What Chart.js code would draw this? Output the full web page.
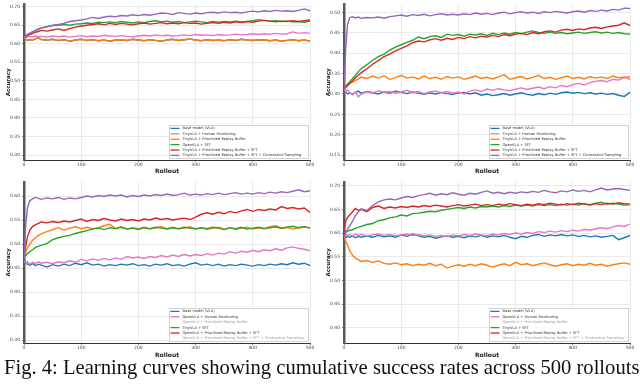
<!DOCTYPE html>
<html><head><meta charset="utf-8">
<script src="https://cdn.jsdelivr.net/npm/chart.js@4.4.0/dist/chart.umd.min.js"></script>
<style>
html,body{margin:0;padding:0;background:#fff;width:640px;height:386px;overflow:hidden;}
canvas{position:absolute;}
#cap{position:absolute;left:4px;top:356px;font-family:"Liberation Serif","Times New Roman",serif;font-size:20.6px;white-space:nowrap;color:#111;}
</style></head><body>
<canvas id="tl" width="320" height="177" style="left:0;top:0"></canvas>
<canvas id="tr" width="320" height="177" style="left:320px;top:0"></canvas>
<canvas id="bl" width="320" height="186" style="left:0;top:175px"></canvas>
<canvas id="br" width="320" height="186" style="left:320px;top:175px"></canvas>
<div id="cap">Fig. 4: Learning curves showing cumulative success rates across 500 rollouts</div>
<script>
// ---------- shared ----------
const rollouts = [0,3,6,10,15,20,25,30,40,50,60,70,80,90,100,110,120,130,140,150,160,170,180,190,200,210,220,230,240,250,260,270,280,290,300,310,320,330,340,350,360,370,380,390,400,410,420,430,440,450,460,470,480,490,500];
const xTicks = [0,100,200,300,400,500];
const topLabels = ["Base model (VLA)","TinyVLA + Human Monitoring","TinyVLA + Prioritized Replay Buffer","OpenVLA + SFT","TinyVLA + Prioritized Replay Buffer + SFT","TinyVLA + Prioritized Replay Buffer + SFT + Contrastive Sampling"];
const bottomLabels = ["Base model (VLA)","OpenVLA + Human Monitoring","OpenVLA + Prioritized Replay Buffer","TinyVLA + SFT","OpenVLA + Prioritized Replay Buffer + SFT","OpenVLA + Prioritized Replay Buffer + SFT + Contrastive Sampling"];
const caption = "Fig. 4: Learning curves showing cumulative success rates across 500 rollouts";

// ---------- top-left ----------
const tlTicks = [0.30,0.35,0.40,0.45,0.50,0.55,0.60,0.65,0.70];
const tlBlue   = [0.617,0.612,0.609,0.611,0.610,0.613,0.616,0.611,0.610,0.612,0.609,0.611,0.607,0.610,0.612,0.609,0.611,0.608,0.610,0.607,0.610,0.611,0.609,0.612,0.610,0.608,0.611,0.609,0.607,0.610,0.612,0.609,0.611,0.613,0.610,0.608,0.611,0.609,0.610,0.608,0.611,0.609,0.612,0.610,0.609,0.611,0.610,0.608,0.610,0.607,0.609,0.611,0.608,0.610,0.607];
const tlPink   = [0.617,0.616,0.619,0.620,0.618,0.621,0.619,0.620,0.618,0.621,0.619,0.621,0.618,0.620,0.622,0.619,0.621,0.620,0.623,0.621,0.620,0.622,0.620,0.619,0.621,0.623,0.621,0.624,0.622,0.623,0.621,0.622,0.624,0.622,0.625,0.623,0.624,0.622,0.625,0.623,0.624,0.626,0.624,0.625,0.627,0.625,0.627,0.626,0.628,0.626,0.627,0.632,0.628,0.630,0.628];
const tlOrange = [0.617,0.612,0.609,0.611,0.610,0.613,0.616,0.611,0.610,0.612,0.609,0.611,0.607,0.610,0.612,0.609,0.611,0.608,0.610,0.607,0.610,0.611,0.609,0.612,0.610,0.608,0.611,0.609,0.607,0.610,0.612,0.609,0.611,0.613,0.610,0.608,0.611,0.609,0.610,0.608,0.611,0.609,0.612,0.610,0.609,0.611,0.610,0.608,0.610,0.607,0.609,0.611,0.608,0.610,0.607];
const tlGreen  = [0.617,0.621,0.625,0.628,0.632,0.636,0.639,0.642,0.646,0.649,0.650,0.652,0.650,0.653,0.654,0.656,0.655,0.658,0.657,0.659,0.657,0.660,0.658,0.656,0.659,0.657,0.660,0.662,0.659,0.661,0.658,0.660,0.657,0.659,0.661,0.659,0.657,0.660,0.658,0.660,0.659,0.661,0.659,0.660,0.662,0.665,0.663,0.661,0.662,0.660,0.661,0.659,0.660,0.658,0.661];
const tlRed    = [0.617,0.619,0.622,0.625,0.628,0.631,0.633,0.636,0.634,0.637,0.640,0.636,0.641,0.645,0.648,0.650,0.652,0.654,0.651,0.655,0.652,0.655,0.653,0.651,0.654,0.656,0.653,0.655,0.657,0.654,0.656,0.654,0.657,0.655,0.656,0.653,0.655,0.657,0.655,0.658,0.656,0.659,0.657,0.660,0.658,0.661,0.663,0.661,0.659,0.661,0.660,0.662,0.660,0.662,0.664];
const tlPurple = [0.617,0.620,0.625,0.628,0.632,0.636,0.640,0.643,0.646,0.650,0.652,0.655,0.660,0.662,0.664,0.667,0.671,0.668,0.672,0.674,0.673,0.676,0.675,0.678,0.676,0.679,0.677,0.680,0.683,0.682,0.679,0.684,0.682,0.680,0.683,0.681,0.684,0.685,0.683,0.686,0.684,0.685,0.683,0.686,0.688,0.686,0.689,0.687,0.690,0.688,0.689,0.687,0.690,0.694,0.689];

// ---------- top-right ----------
const trTicks = [0.15,0.20,0.25,0.30,0.35,0.40,0.45,0.50];
const trBlue   = [0.313,0.305,0.300,0.303,0.299,0.304,0.307,0.302,0.306,0.303,0.300,0.305,0.302,0.307,0.304,0.301,0.305,0.302,0.299,0.303,0.300,0.304,0.301,0.299,0.302,0.304,0.300,0.303,0.297,0.300,0.296,0.298,0.301,0.297,0.300,0.303,0.299,0.297,0.301,0.298,0.302,0.299,0.303,0.305,0.302,0.304,0.301,0.303,0.300,0.302,0.299,0.301,0.297,0.294,0.304];
const trPink   = [0.313,0.305,0.310,0.303,0.298,0.305,0.293,0.300,0.306,0.302,0.308,0.304,0.306,0.302,0.305,0.309,0.303,0.306,0.301,0.305,0.307,0.303,0.306,0.302,0.305,0.300,0.307,0.310,0.306,0.312,0.309,0.313,0.310,0.308,0.312,0.315,0.311,0.314,0.317,0.313,0.318,0.315,0.321,0.318,0.323,0.326,0.322,0.328,0.331,0.333,0.330,0.336,0.334,0.340,0.343];
const trOrange = [0.313,0.318,0.322,0.326,0.330,0.333,0.337,0.341,0.338,0.344,0.339,0.345,0.336,0.340,0.346,0.339,0.342,0.337,0.344,0.338,0.341,0.336,0.343,0.339,0.342,0.336,0.340,0.344,0.338,0.341,0.337,0.342,0.347,0.336,0.340,0.343,0.337,0.341,0.346,0.338,0.341,0.336,0.340,0.344,0.338,0.341,0.337,0.343,0.339,0.342,0.338,0.344,0.340,0.342,0.336];
const trGreen  = [0.313,0.318,0.324,0.330,0.338,0.346,0.355,0.362,0.372,0.383,0.392,0.398,0.408,0.415,0.421,0.427,0.432,0.440,0.436,0.441,0.443,0.439,0.447,0.444,0.446,0.442,0.447,0.445,0.448,0.444,0.449,0.446,0.450,0.447,0.451,0.448,0.452,0.455,0.451,0.449,0.452,0.449,0.451,0.448,0.450,0.452,0.449,0.451,0.453,0.450,0.452,0.449,0.451,0.448,0.447];
const trRed    = [0.313,0.316,0.320,0.326,0.332,0.340,0.346,0.352,0.362,0.373,0.382,0.392,0.398,0.406,0.412,0.418,0.426,0.430,0.428,0.433,0.436,0.432,0.437,0.434,0.439,0.436,0.441,0.438,0.442,0.440,0.444,0.441,0.446,0.443,0.447,0.449,0.446,0.451,0.448,0.453,0.455,0.452,0.457,0.459,0.456,0.460,0.458,0.462,0.464,0.461,0.465,0.467,0.469,0.475,0.468];
const trPurple = [0.313,0.410,0.470,0.488,0.490,0.487,0.489,0.486,0.488,0.487,0.489,0.486,0.490,0.492,0.494,0.491,0.495,0.493,0.496,0.492,0.495,0.497,0.494,0.496,0.494,0.497,0.495,0.499,0.496,0.498,0.495,0.499,0.501,0.497,0.500,0.502,0.499,0.501,0.498,0.502,0.500,0.503,0.501,0.499,0.502,0.504,0.501,0.505,0.503,0.506,0.504,0.508,0.506,0.511,0.510];

// ---------- bottom-left ----------
const blTicks = [0.30,0.35,0.40,0.45,0.50,0.55,0.60];
const blBlue   = [0.470,0.461,0.458,0.456,0.459,0.455,0.458,0.456,0.452,0.457,0.454,0.458,0.455,0.460,0.457,0.461,0.456,0.458,0.454,0.457,0.455,0.458,0.456,0.459,0.455,0.457,0.454,0.458,0.456,0.459,0.455,0.457,0.454,0.458,0.461,0.456,0.458,0.455,0.458,0.454,0.457,0.455,0.458,0.456,0.454,0.457,0.455,0.458,0.456,0.459,0.457,0.461,0.458,0.460,0.455];
const blPink   = [0.465,0.460,0.463,0.458,0.462,0.459,0.463,0.460,0.462,0.459,0.463,0.461,0.465,0.462,0.468,0.465,0.469,0.466,0.470,0.467,0.471,0.468,0.474,0.471,0.473,0.470,0.474,0.472,0.476,0.473,0.477,0.474,0.478,0.475,0.478,0.476,0.480,0.477,0.481,0.479,0.484,0.481,0.485,0.483,0.487,0.484,0.488,0.486,0.490,0.487,0.492,0.494,0.491,0.489,0.486];
const blOrange = [0.472,0.483,0.492,0.499,0.508,0.513,0.518,0.521,0.526,0.530,0.534,0.529,0.533,0.536,0.532,0.535,0.532,0.534,0.538,0.541,0.532,0.536,0.531,0.534,0.532,0.535,0.531,0.534,0.536,0.532,0.535,0.531,0.533,0.536,0.532,0.534,0.530,0.533,0.535,0.531,0.534,0.530,0.533,0.535,0.531,0.534,0.532,0.536,0.538,0.533,0.535,0.531,0.534,0.536,0.533];
const blGreen  = [0.472,0.476,0.480,0.484,0.488,0.493,0.495,0.497,0.501,0.509,0.513,0.516,0.518,0.522,0.525,0.528,0.531,0.533,0.530,0.534,0.532,0.535,0.531,0.533,0.530,0.534,0.532,0.535,0.533,0.531,0.534,0.532,0.535,0.533,0.531,0.534,0.532,0.535,0.533,0.530,0.534,0.532,0.535,0.531,0.533,0.535,0.532,0.534,0.536,0.533,0.535,0.537,0.534,0.536,0.533];
const blRed    = [0.476,0.495,0.515,0.528,0.537,0.540,0.543,0.546,0.544,0.547,0.545,0.548,0.546,0.549,0.552,0.547,0.551,0.549,0.553,0.550,0.548,0.552,0.549,0.551,0.548,0.552,0.550,0.554,0.551,0.553,0.550,0.552,0.554,0.551,0.556,0.562,0.565,0.562,0.566,0.563,0.568,0.565,0.569,0.572,0.568,0.572,0.570,0.573,0.571,0.578,0.574,0.576,0.573,0.575,0.566];
const blPurple = [0.469,0.540,0.575,0.590,0.594,0.597,0.595,0.593,0.596,0.594,0.597,0.593,0.596,0.594,0.597,0.600,0.598,0.601,0.599,0.602,0.600,0.602,0.598,0.601,0.599,0.602,0.600,0.603,0.601,0.604,0.601,0.603,0.606,0.602,0.604,0.602,0.605,0.603,0.606,0.603,0.605,0.607,0.604,0.606,0.604,0.607,0.605,0.608,0.606,0.609,0.607,0.610,0.613,0.609,0.611];

// ---------- bottom-right ----------
const brTicks = [0.40,0.45,0.50,0.55,0.60,0.65,0.70];
const brBlue   = [0.592,0.590,0.593,0.591,0.594,0.590,0.593,0.591,0.594,0.591,0.595,0.592,0.594,0.591,0.596,0.593,0.598,0.594,0.591,0.593,0.589,0.592,0.594,0.591,0.593,0.590,0.594,0.592,0.595,0.591,0.594,0.592,0.595,0.591,0.588,0.593,0.591,0.595,0.597,0.593,0.596,0.594,0.597,0.594,0.596,0.593,0.595,0.592,0.594,0.591,0.593,0.595,0.586,0.590,0.595];
const brPink   = [0.596,0.598,0.595,0.597,0.594,0.598,0.595,0.597,0.594,0.596,0.598,0.595,0.597,0.594,0.596,0.598,0.595,0.597,0.594,0.596,0.593,0.595,0.592,0.596,0.594,0.597,0.595,0.598,0.596,0.594,0.598,0.596,0.599,0.597,0.600,0.598,0.601,0.599,0.603,0.601,0.604,0.602,0.605,0.603,0.606,0.604,0.608,0.606,0.609,0.611,0.609,0.613,0.616,0.614,0.619];
const brOrange = [0.592,0.583,0.575,0.562,0.553,0.547,0.544,0.540,0.542,0.538,0.541,0.536,0.534,0.537,0.533,0.535,0.531,0.534,0.532,0.536,0.531,0.534,0.526,0.530,0.533,0.530,0.534,0.531,0.535,0.532,0.528,0.532,0.535,0.531,0.538,0.533,0.535,0.531,0.534,0.537,0.533,0.530,0.533,0.535,0.531,0.534,0.532,0.536,0.532,0.534,0.530,0.533,0.535,0.537,0.534];
const brGreen  = [0.603,0.604,0.603,0.606,0.607,0.610,0.612,0.614,0.618,0.620,0.626,0.628,0.632,0.634,0.638,0.636,0.641,0.642,0.644,0.646,0.645,0.648,0.650,0.652,0.654,0.652,0.655,0.653,0.656,0.655,0.657,0.655,0.658,0.656,0.659,0.657,0.659,0.657,0.660,0.658,0.660,0.658,0.661,0.659,0.661,0.659,0.662,0.660,0.663,0.665,0.661,0.663,0.661,0.659,0.660];
const brRed    = [0.606,0.625,0.633,0.638,0.645,0.652,0.648,0.650,0.645,0.654,0.657,0.652,0.655,0.653,0.656,0.654,0.657,0.655,0.658,0.656,0.659,0.657,0.655,0.658,0.660,0.657,0.659,0.661,0.658,0.660,0.658,0.661,0.659,0.662,0.660,0.658,0.661,0.659,0.662,0.660,0.663,0.661,0.659,0.662,0.660,0.663,0.661,0.659,0.662,0.660,0.663,0.661,0.664,0.662,0.661];
const brPurple = [0.592,0.600,0.608,0.615,0.625,0.637,0.645,0.651,0.648,0.658,0.666,0.670,0.672,0.670,0.674,0.677,0.675,0.679,0.681,0.684,0.680,0.683,0.681,0.685,0.682,0.680,0.684,0.682,0.686,0.689,0.684,0.686,0.683,0.686,0.684,0.687,0.685,0.688,0.686,0.690,0.687,0.685,0.689,0.687,0.691,0.688,0.690,0.687,0.691,0.695,0.691,0.693,0.694,0.692,0.690];

// ---------- drawing ----------
const COLORS = ['#1f77b4','#e377c2','#ff7f0e','#2ca02c','#d62728','#9467bd'];
document.getElementById('cap').textContent = caption;

const boxLegend = {
  id: 'boxLegend',
  afterDatasetsDraw(chart, args, opts) {
    const ctx = chart.ctx, a = chart.chartArea;
    const w = 140, h = 34, x0 = a.right - w - 1, y0 = a.bottom - h - 1;
    ctx.save();
    ctx.fillStyle = 'rgba(255,255,255,0.9)';
    ctx.fillRect(x0, y0, w, h);
    ctx.strokeStyle = '#c8c8c8'; ctx.lineWidth = 0.8;
    ctx.strokeRect(x0 + 0.5, y0 + 0.5, w - 1, h - 1);
    ctx.font = '3.6px "DejaVu Sans"';
    ctx.textBaseline = 'middle';
    chart.data.datasets.forEach((ds, i) => {
      const y = y0 + 3.4 + i * 5.4;
      const faded = (opts.faded || []).includes(i);
      if (!faded) {
        ctx.strokeStyle = ds.borderColor; ctx.lineWidth = 1.3;
        ctx.beginPath(); ctx.moveTo(x0 + 1.5, y); ctx.lineTo(x0 + 10.5, y); ctx.stroke();
      }
      ctx.fillStyle = faded ? '#9a9a9a' : '#333';
      ctx.fillText(ds.label, x0 + 13.5, y, w - 15);
    });
    ctx.restore();
  }
};

function makeChart(id, series, labels, yTicks, yMin, yMax, areaTop, xH, faded) {
  const datasets = series.map((vals, i) => ({
    label: labels[i],
    data: rollouts.map((x, k) => ({ x: x, y: vals[k] })),
    borderColor: COLORS[i],
    borderWidth: 1.4,
    pointRadius: 0,
    fill: false,
    tension: 0,
    order: 10 - i
  }));
  new Chart(document.getElementById(id), {
    type: 'line',
    data: { datasets: datasets },
    plugins: [boxLegend],
    options: {
      responsive: false,
      animation: false,
      layout: { padding: { left: 0, right: 10, top: areaTop, bottom: 0 } },
      plugins: { legend: { display: false }, tooltip: { enabled: false }, boxLegend: { faded: faded } },
      scales: {
        x: {
          type: 'linear', min: 0, max: 500,
          afterBuildTicks: s => { s.ticks = xTicks.map(v => ({ value: v })); },
          afterFit: s => { s.height = xH; },
          grid: { color: '#e4e4e4', lineWidth: 0.8, tickLength: 2, tickColor: '#666' },
          border: { color: '#333', width: 1 },
          ticks: { font: { family: 'DejaVu Sans', size: 4.5 }, color: '#444', padding: 0, maxRotation: 0,
                   callback: v => String(v) },
          title: { display: true, text: 'Rollout', font: { family: 'DejaVu Sans', size: 6, weight: 'bold' }, color: '#222', padding: { top: 0, bottom: 2 } }
        },
        y: {
          min: yMin, max: yMax,
          afterBuildTicks: s => { s.ticks = yTicks.map(v => ({ value: v })); },
          afterFit: s => { s.width = 24; },
          grid: { color: '#e4e4e4', lineWidth: 0.8, tickLength: 2, tickColor: '#666' },
          border: { color: '#5a5a5a', width: 2.5 },
          ticks: { font: { family: 'DejaVu Sans', size: 4.5 }, color: '#444', padding: 2,
                   callback: v => Number(v).toFixed(2) },
          title: { display: true, text: 'Accuracy', font: { family: 'DejaVu Sans', size: 5.5, weight: 'bold' }, color: '#222', padding: { top: 5, bottom: 0 } }
        }
      }
    }
  });
}

makeChart('tl', [tlBlue, tlPink, tlOrange, tlGreen, tlRed, tlPurple], topLabels, tlTicks, 0.2867, 0.7053, 3, 17, []);
makeChart('tr', [trBlue, trPink, trOrange, trGreen, trRed, trPurple], topLabels, trTicks, 0.1378, 0.5194, 3, 17, []);
makeChart('bl', [blBlue, blPink, blOrange, blGreen, blRed, blPurple], bottomLabels, blTicks, 0.2938, 0.6292, 7, 18, [2, 5]);
makeChart('br', [brBlue, brPink, brOrange, brGreen, brRed, brPurple], bottomLabels, brTicks, 0.3677, 0.7078, 7, 18, [2, 5]);
</script>
</body></html>
